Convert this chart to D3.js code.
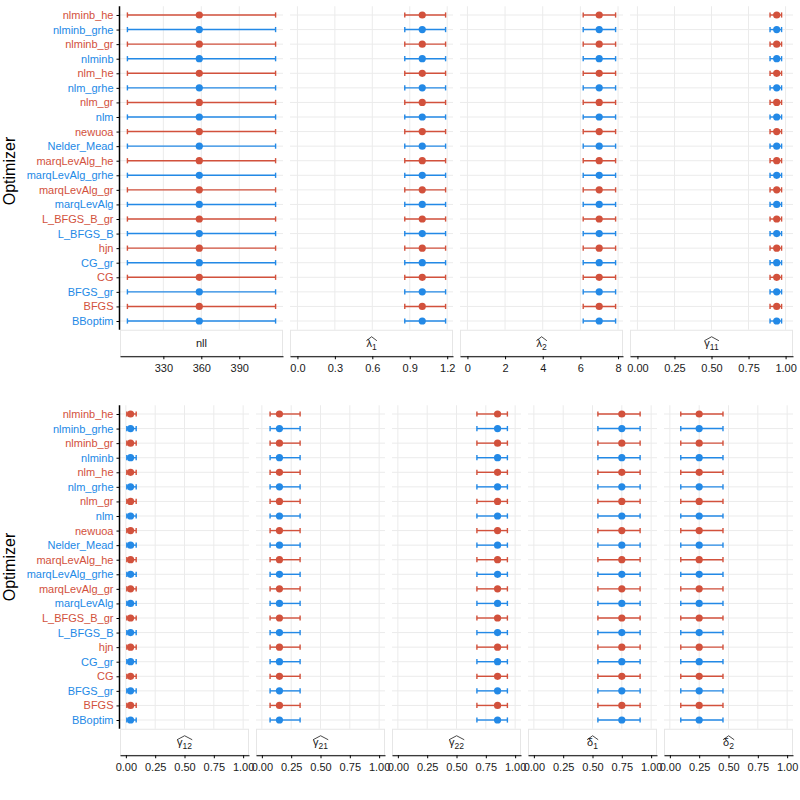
<!DOCTYPE html>
<html><head><meta charset="utf-8">
<script src="https://cdn.jsdelivr.net/npm/d3@7"></script>
<style>body{margin:0;background:#fff}svg{font-family:"Liberation Sans",Arial,sans-serif}</style>
</head><body><svg id="c" width="800" height="800"></svg>
<script>
// ---------- data ----------
const optimizers = ["nlminb_he","nlminb_grhe","nlminb_gr","nlminb","nlm_he","nlm_grhe","nlm_gr","nlm","newuoa","Nelder_Mead","marqLevAlg_he","marqLevAlg_grhe","marqLevAlg_gr","marqLevAlg","L_BFGS_B_gr","L_BFGS_B","hjn","CG_gr","CG","BFGS_gr","BFGS","BBoptim"];
const optColorGroup = ["a","b","a","b","a","b","a","b","a","b","a","b","a","b","a","b","a","b","a","b","a","b"];
// parameter keys: [symbol, subscript]
const topParams = ["nll","lambda1","lambda2","gamma11"];
const bottomParams = ["gamma12","gamma21","gamma22","delta1","delta2"];
const paramSymbol = {nll:["nll",""],lambda1:["λ","1"],lambda2:["λ","2"],gamma11:["γ","11"],gamma12:["γ","12"],gamma21:["γ","21"],gamma22:["γ","22"],delta1:["δ","1"],delta2:["δ","2"]};
// estimates and 95% interval (same across optimizers)
const estimate = {nll:358.4,lambda1:1.0,lambda2:7.0,gamma11:0.94,gamma12:0.04,gamma21:0.15,gamma22:0.85,delta1:0.75,delta2:0.25};
const lower    = {nll:301.6,lambda1:0.86,lambda2:6.15,gamma11:0.895,gamma12:0.008,gamma21:0.07,gamma22:0.674,delta1:0.546,delta2:0.093};
const upper    = {nll:418.7,lambda1:1.187,lambda2:7.87,gamma11:0.973,gamma12:0.088,gamma21:0.326,gamma22:0.934,delta1:0.906,delta2:0.453};
const domainLow  = {nll:301.6,lambda1:0,lambda2:0,gamma11:0,gamma12:0,gamma21:0,gamma22:0,delta1:0,delta2:0};
const domainHigh = {nll:418.7,lambda1:1.187,lambda2:7.87,gamma11:1,gamma12:1,gamma21:1,gamma22:1,delta1:1,delta2:1};
const tickValues = {nll:[330,360,390],lambda1:[0,0.3,0.6,0.9,1.2],lambda2:[0,2,4,6,8],
  gamma11:[0,0.25,0.5,0.75,1],gamma12:[0,0.25,0.5,0.75,1],gamma21:[0,0.25,0.5,0.75,1],gamma22:[0,0.25,0.5,0.75,1],delta1:[0,0.25,0.5,0.75,1],delta2:[0,0.25,0.5,0.75,1]};
const tickFormat = {nll:"d",lambda1:".1f",lambda2:"d",gamma11:".2f",gamma12:".2f",gamma21:".2f",gamma22:".2f",delta1:".2f",delta2:".2f"};
const colors = {a:"#d2513c", b:"#2389e6"};

// ---------- drawing ----------
const svg = d3.select("#c");
const left = 120, right = 793, gap = 7;

function drawRow(params, top, bottom, titleY){
  const n = params.length;
  const pw = (right - left - gap*(n-1))/n;
  const y = d3.scalePoint().domain(optimizers).range([top, bottom]).padding(0.6);
  const stripTop = bottom + 0.5, stripH = 26;
  params.forEach((p,i)=>{
    const x0 = left + i*(pw+gap);
    const lo = domainLow[p], hi = domainHigh[p], ex = (hi-lo)*0.05;
    const x = d3.scaleLinear().domain([lo-ex, hi+ex]).range([x0, x0+pw]);
    const g = svg.append("g");
    // grid
    g.selectAll(".gx").data(tickValues[p]).join("line")
      .attr("x1",d=>x(d)).attr("x2",d=>x(d)).attr("y1",top).attr("y2",bottom)
      .attr("stroke","#ebebeb").attr("stroke-width",1);
    g.selectAll(".gy").data(optimizers).join("line")
      .attr("x1",x0).attr("x2",x0+pw).attr("y1",d=>y(d)).attr("y2",d=>y(d))
      .attr("stroke","#ebebeb").attr("stroke-width",1);
    // error bars
    const rows = optimizers.map((o,k)=>({o, c:colors[optColorGroup[k]], e:estimate[p], l:lower[p], u:upper[p]}));
    const eb = g.selectAll(".eb").data(rows).join("g");
    eb.append("line").attr("x1",d=>x(d.l)).attr("x2",d=>x(d.u)).attr("y1",d=>y(d.o)).attr("y2",d=>y(d.o))
      .attr("stroke",d=>d.c).attr("stroke-width",1.4);
    eb.append("line").attr("x1",d=>x(d.l)).attr("x2",d=>x(d.l)).attr("y1",d=>y(d.o)-2.6).attr("y2",d=>y(d.o)+2.6)
      .attr("stroke",d=>d.c).attr("stroke-width",1.4);
    eb.append("line").attr("x1",d=>x(d.u)).attr("x2",d=>x(d.u)).attr("y1",d=>y(d.o)-2.6).attr("y2",d=>y(d.o)+2.6)
      .attr("stroke",d=>d.c).attr("stroke-width",1.4);
    eb.append("circle").attr("cx",d=>x(d.e)).attr("cy",d=>y(d.o)).attr("r",3.6).attr("fill",d=>d.c);
    // strip
    g.append("rect").attr("x",x0+0.5).attr("y",stripTop).attr("width",pw-1).attr("height",stripH)
      .attr("fill","#fff").attr("stroke","#e6e6e6").attr("stroke-width",1);
    const st = g.append("text").attr("x",x0+pw/2).attr("y",stripTop+stripH/2+4)
      .attr("text-anchor","middle").attr("font-size",11).attr("fill","#1a1a1a");
    const sym = paramSymbol[p];
    st.append("tspan").text(sym[0]);
    if(sym[1]){
      st.append("tspan").attr("font-size",8.5).attr("dy",2.5).text(sym[1]);
      const bb = st.node().getBBox();
      const ht = stripTop+stripH/2-5.5;
      g.append("path").attr("d",`M${bb.x},${ht+3}L${bb.x+bb.width/2},${ht-1}L${bb.x+bb.width},${ht+3}`)
        .attr("fill","none").attr("stroke","#1a1a1a").attr("stroke-width",0.8);
    }
    // x axis
    const axY = stripTop+stripH;
    const ax = g.append("g").attr("transform",`translate(0,${axY})`)
      .call(d3.axisBottom(x).tickValues(tickValues[p]).tickFormat(d3.format(tickFormat[p])).tickSize(3).tickSizeOuter(0));
    ax.select(".domain").attr("stroke","#000").attr("stroke-width",1.2);
    ax.selectAll(".tick line").attr("stroke","#000").attr("stroke-width",1);
    ax.selectAll(".tick text").attr("font-size",11).attr("fill","#1a1a1a").attr("font-family","Liberation Sans, Arial, sans-serif").attr("dy","0.9em");
    // y axis on first panel
    if(i===0){
      const ay = g.append("g").attr("transform",`translate(${x0-0.5},0)`)
        .call(d3.axisLeft(y).tickSize(3).tickSizeOuter(0).tickPadding(3));
      ay.select(".domain").attr("stroke","#000").attr("stroke-width",1.5).attr("d",`M0,${top}V${bottom}`);
      ay.selectAll(".tick line").attr("stroke","#000");
      ay.selectAll(".tick text").attr("font-size",11).attr("font-family","Liberation Sans, Arial, sans-serif")
        .attr("fill",(d,k)=>colors[optColorGroup[k]]);
    }
  });
  svg.append("text").attr("transform",`translate(15,${titleY}) rotate(-90)`).attr("text-anchor","middle")
    .attr("font-size",16).attr("fill","#000").text("Optimizer");
}
drawRow(topParams, 6.25, 329.75, 171);
drawRow(bottomParams, 405.25, 728.75, 567);
</script></body></html>
